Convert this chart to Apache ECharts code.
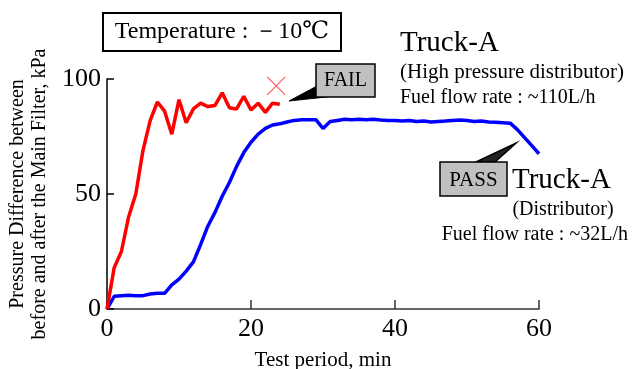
<!DOCTYPE html>
<html><head><meta charset="utf-8">
<script src="https://cdn.jsdelivr.net/npm/echarts@6/dist/echarts.min.js"></script>
<style>html,body{margin:0;padding:0;background:#fff}#c{width:638px;height:369px}</style>
</head><body><div id="c"></div>
<script>
var timeMin = [];
for (var i = 0; i <= 60; i++) timeMin.push(i);
var redTimes = [0,1,2,3,4,5,6,7,8,9,10,11,12,13,14,15,16,17,18,19,20,21,22,23,24];
var redValues = [0,18,25,40,50,69,82,90,86,76,91,81,87,89.5,88,88.5,94,87.5,87,92.5,86.5,89.5,85.5,89.5,89];
var blueTimes = timeMin;
var blueValues = [0,5.5,5.8,6,5.8,5.8,6.5,6.8,6.8,10.5,13,16.5,20.5,28,36,42,49,55,62,68,72.5,76,78.5,80,80.5,81.3,82,82.3,82.3,82.3,78.5,81.5,82,82.5,82.3,82.5,82.3,82.5,82.2,82,82,81.7,82,81.5,81.7,81.3,81.5,81.7,82,82.2,82,81.5,81.7,81.3,81.2,81,80.8,78,74.5,71,67.5];
var xTicks = [0,20,40,60];
var yTicks = [0,50,100];
var failMark = [[23.5, 97]];

function pairs(t, v){ return t.map(function(x,i){return [x, v[i]];}); }
var serif = '"Liberation Serif","DejaVu Serif",serif';
var chart = echarts.init(document.getElementById('c'));
chart.setOption({
  animation: false,
  textStyle: {fontFamily: serif, color: '#000'},
  grid: {left: 107, right: 99, top: 79, bottom: 60, containLabel: false, outerBoundsMode: 'none'},
  xAxis: {
    type: 'value', min: 0, max: 60, interval: 20,
    axisLine: {lineStyle: {color: '#333', width: 1.5}},
    axisTick: {inside: true, length: 9, lineStyle: {color: '#333', width: 1.5}},
    axisLabel: {fontSize: 26, color: '#000', margin: 7, fontFamily: serif},
    splitLine: {show: false},
    name: 'Test period, min', nameLocation: 'middle', nameGap: 41,
    nameTextStyle: {fontSize: 21, color: '#000', fontFamily: serif}
  },
  yAxis: {
    type: 'value', min: 0, max: 100, interval: 50,
    axisLine: {show: true, lineStyle: {color: '#000', width: 1.5}},
    axisTick: {show: true, inside: true, length: 7, lineStyle: {color: '#000', width: 1.5}},
    axisLabel: {fontSize: 26, color: '#000', margin: 6, fontFamily: serif},
    splitLine: {show: false},
    name: 'Pressure Difference between\nbefore and after the Main Filter, kPa',
    nameLocation: 'middle', nameRotate: 90, nameGap: 49,
    nameTextStyle: {fontSize: 20, color: '#000', lineHeight: 22, fontFamily: serif}
  },
  series: [
    {type: 'line', data: pairs(blueTimes, blueValues), symbol: 'none', lineStyle: {color: '#0000ff', width: 3.5}, z: 2},
    {type: 'line', data: pairs(redTimes, redValues), symbol: 'none', lineStyle: {color: '#ff0000', width: 3.5}, z: 3},
    {type: 'scatter', data: failMark, symbol: 'path://M0,0L10,10M10,0L0,10', symbolSize: 18,
     itemStyle: {color: 'none', borderColor: '#ff3030', borderWidth: 1.2}, z: 4}
  ],
  graphic: [
    {type: 'rect', shape: {x: 103, y: 13, width: 238, height: 38}, style: {fill: '#fff', stroke: '#000', lineWidth: 2}},
    {type: 'text', x: 222, y: 32, style: {text: 'Temperature : －10℃', font: '24px ' + serif, fill: '#000', align: 'center', verticalAlign: 'middle'}},
    {type: 'text', x: 400, y: 43, style: {text: 'Truck-A', font: '29px ' + serif, fill: '#000', align: 'left', verticalAlign: 'middle'}},
    {type: 'text', x: 400, y: 72, style: {text: '(High pressure distributor)', font: '21px ' + serif, fill: '#000', align: 'left', verticalAlign: 'middle'}},
    {type: 'text', x: 400, y: 98, style: {text: 'Fuel flow rate : ~110L/h', font: '20px ' + serif, fill: '#000', align: 'left', verticalAlign: 'middle'}},
    {type: 'polygon', shape: {points: [[317,86],[289,101],[326,97]]}, style: {fill: '#000', stroke: '#000', lineWidth: 1}},
    {type: 'rect', shape: {x: 316, y: 64, width: 59, height: 33}, style: {fill: '#c0c0c0', stroke: '#000', lineWidth: 1.5}},
    {type: 'text', x: 345.5, y: 81, style: {text: 'FAIL', font: '20px ' + serif, fill: '#000', align: 'center', verticalAlign: 'middle'}},
    {type: 'polygon', shape: {points: [[476,162],[516,143],[495,162]]}, style: {fill: '#222', stroke: '#000', lineWidth: 1.5}},
    {type: 'rect', shape: {x: 440, y: 162, width: 67, height: 34}, style: {fill: '#c0c0c0', stroke: '#000', lineWidth: 1.5}},
    {type: 'text', x: 473.5, y: 180, style: {text: 'PASS', font: '21px ' + serif, fill: '#000', align: 'center', verticalAlign: 'middle'}},
    {type: 'text', x: 512, y: 180, style: {text: 'Truck-A', font: '29px ' + serif, fill: '#000', align: 'left', verticalAlign: 'middle'}},
    {type: 'text', x: 563, y: 210, style: {text: '(Distributor)', font: '20px ' + serif, fill: '#000', align: 'center', verticalAlign: 'middle'}},
    {type: 'text', x: 628, y: 235, style: {text: 'Fuel flow rate : ~32L/h', font: '20px ' + serif, fill: '#000', align: 'right', verticalAlign: 'middle'}}
  ]
});
</script></body></html>
